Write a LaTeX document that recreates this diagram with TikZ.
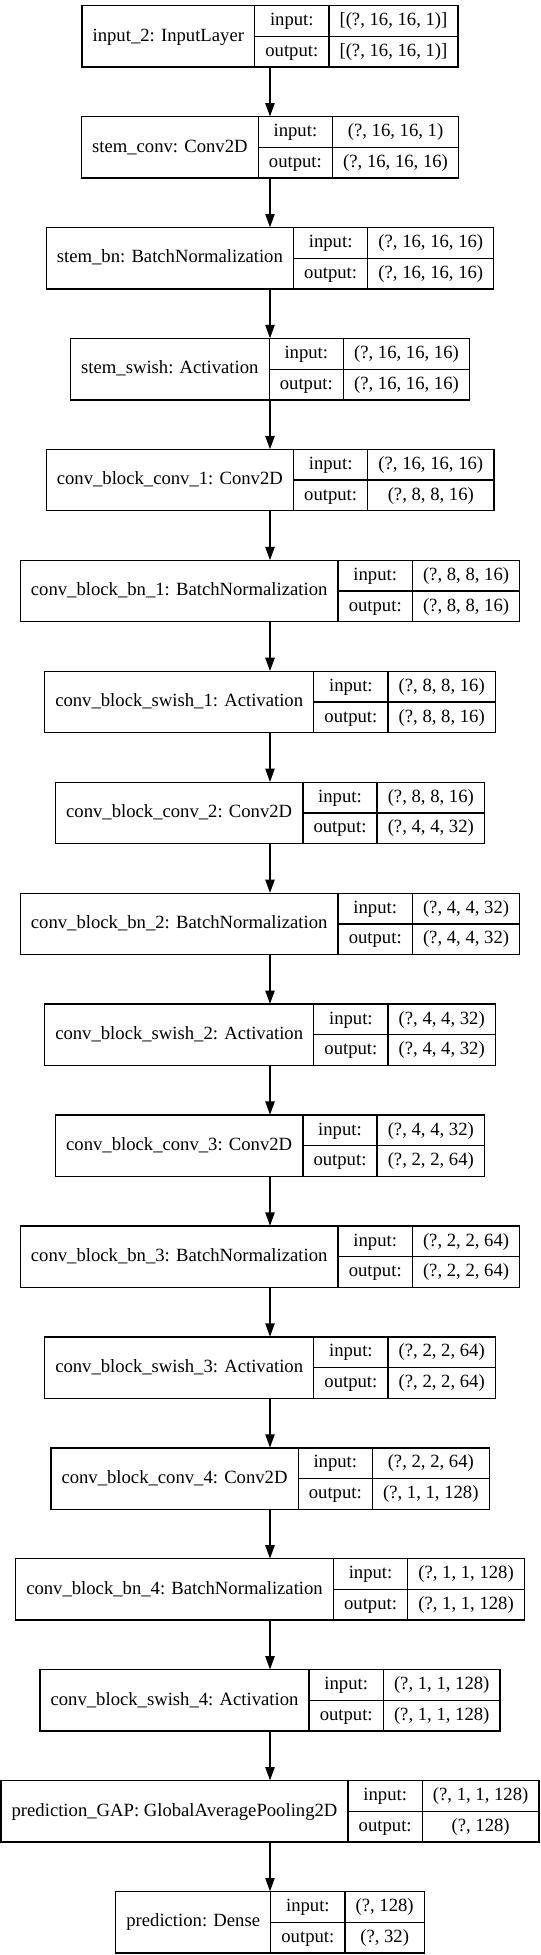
\documentclass[tikz,border=0pt]{standalone}
\usepackage{fontspec}
\setmainfont{Liberation Serif}
\usepackage{tikz}
\usetikzlibrary{arrows.meta,fit,calc,positioning}
\newcommand{\cellfont}{\fontsize{14pt}{17pt}\selectfont}
\newcommand{\cellwidth}[2]{\settowidth{#1}{\pgfinterruptpicture\cellfont #2\endpgfinterruptpicture}}
\tikzstyle{layercell} = [draw, line width=1pt, outer sep=0pt, inner xsep=8pt,
  inner ysep=0pt, text height=10pt, text depth=3pt, font=\cellfont,
  minimum height=46pt, anchor=north west]
\tikzstyle{portcell} = [layercell, minimum height=23pt]
\tikzstyle{line} = [draw, line width=1pt, -{Triangle[length=10pt,width=7pt]}]
\newdimen\namew
\newdimen\portw
\newdimen\shapew
\newdimen\tmpw
% #1 node, #2 top centre, #3 layer, #4 input shape, #5 output shape
\newcommand{\kerasnode}[5]{%
  \cellwidth{\namew}{#3}\advance\namew by 16pt
  \cellwidth{\portw}{output:}\advance\portw by 16pt
  \cellwidth{\shapew}{#4}\cellwidth{\tmpw}{#5}%
  \ifdim\tmpw>\shapew \shapew=\tmpw\fi
  \advance\shapew by 16pt
  \tmpw=\namew \advance\tmpw by \portw \advance\tmpw by \shapew
  \tmpw=0.5\tmpw
  \path #2 ++(-\tmpw,0) node (#1-name) [layercell, minimum width=\namew] {#3};
  \node (#1-in) [portcell, minimum width=\portw] at (#1-name.north east) {input:};
  \node (#1-out) [portcell, minimum width=\portw] at (#1-in.south west) {output:};
  \node (#1-inshape) [portcell, minimum width=\shapew] at (#1-in.north east) {#4};
  \node (#1-outshape) [portcell, minimum width=\shapew] at (#1-inshape.south west) {#5};
  \node (#1) [fit=(#1-name)(#1-outshape), inner sep=0pt] {};}

\begin{document}
\begin{tikzpicture}[x=1pt,y=1pt]
  \useasboundingbox (0,0) rectangle (405,-1466.25);

  % stem
  \kerasnode{input2}{(202.5,-4.3)}{input\_2: InputLayer}{[(?, 16, 16, 1)]}{[(?, 16, 16, 1)]}
  \kerasnode{stemconv}{(input2.south) ++(0,-37)}{stem\_conv: Conv2D}{(?, 16, 16, 1)}{(?, 16, 16, 16)}
  \kerasnode{stembn}{(stemconv.south) ++(0,-37)}{stem\_bn: BatchNormalization}{(?, 16, 16, 16)}{(?, 16, 16, 16)}
  \kerasnode{stemswish}{(stembn.south) ++(0,-37)}{stem\_swish: Activation}{(?, 16, 16, 16)}{(?, 16, 16, 16)}

  % conv blocks
  \kerasnode{convA}{(stemswish.south) ++(0,-37)}{conv\_block\_conv\_1: Conv2D}{(?, 16, 16, 16)}{(?, 8, 8, 16)}
  \kerasnode{bnA}{(convA.south) ++(0,-37)}{conv\_block\_bn\_1: BatchNormalization}{(?, 8, 8, 16)}{(?, 8, 8, 16)}
  \kerasnode{swishA}{(bnA.south) ++(0,-37)}{conv\_block\_swish\_1: Activation}{(?, 8, 8, 16)}{(?, 8, 8, 16)}
  \kerasnode{convB}{(swishA.south) ++(0,-37)}{conv\_block\_conv\_2: Conv2D}{(?, 8, 8, 16)}{(?, 4, 4, 32)}
  \kerasnode{bnB}{(convB.south) ++(0,-37)}{conv\_block\_bn\_2: BatchNormalization}{(?, 4, 4, 32)}{(?, 4, 4, 32)}
  \kerasnode{swishB}{(bnB.south) ++(0,-37)}{conv\_block\_swish\_2: Activation}{(?, 4, 4, 32)}{(?, 4, 4, 32)}
  \kerasnode{convC}{(swishB.south) ++(0,-37)}{conv\_block\_conv\_3: Conv2D}{(?, 4, 4, 32)}{(?, 2, 2, 64)}
  \kerasnode{bnC}{(convC.south) ++(0,-37)}{conv\_block\_bn\_3: BatchNormalization}{(?, 2, 2, 64)}{(?, 2, 2, 64)}
  \kerasnode{swishC}{(bnC.south) ++(0,-37)}{conv\_block\_swish\_3: Activation}{(?, 2, 2, 64)}{(?, 2, 2, 64)}
  \kerasnode{convD}{(swishC.south) ++(0,-37)}{conv\_block\_conv\_4: Conv2D}{(?, 2, 2, 64)}{(?, 1, 1, 128)}
  \kerasnode{bnD}{(convD.south) ++(0,-37)}{conv\_block\_bn\_4: BatchNormalization}{(?, 1, 1, 128)}{(?, 1, 1, 128)}
  \kerasnode{swishD}{(bnD.south) ++(0,-37)}{conv\_block\_swish\_4: Activation}{(?, 1, 1, 128)}{(?, 1, 1, 128)}

  % head
  \kerasnode{gap}{(swishD.south) ++(0,-37)}{prediction\_GAP: GlobalAveragePooling2D}{(?, 1, 1, 128)}{(?, 128)}
  \kerasnode{dense}{(gap.south) ++(0,-37)}{prediction: Dense}{(?, 128)}{(?, 32)}

  %Draw arrows between layers
  \path [line] (input2.south) -- (stemconv.north);
  \path [line] (stemconv.south) -- (stembn.north);
  \path [line] (stembn.south) -- (stemswish.north);
  \path [line] (stemswish.south) -- (convA.north);
  \path [line] (convA.south) -- (bnA.north);
  \path [line] (bnA.south) -- (swishA.north);
  \path [line] (swishA.south) -- (convB.north);
  \path [line] (convB.south) -- (bnB.north);
  \path [line] (bnB.south) -- (swishB.north);
  \path [line] (swishB.south) -- (convC.north);
  \path [line] (convC.south) -- (bnC.north);
  \path [line] (bnC.south) -- (swishC.north);
  \path [line] (swishC.south) -- (convD.north);
  \path [line] (convD.south) -- (bnD.north);
  \path [line] (bnD.south) -- (swishD.north);
  \path [line] (swishD.south) -- (gap.north);
  \path [line] (gap.south) -- (dense.north);

\end{tikzpicture}
\end{document}
